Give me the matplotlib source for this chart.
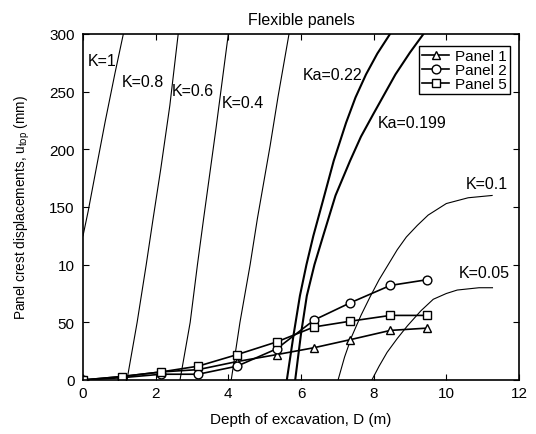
import matplotlib

matplotlib.use("Agg")
import matplotlib.pyplot as plt  # noqa: E402

# measured panel crest displacements
depth = [0, 1.07, 2.15, 3.17, 4.24, 5.33, 6.36, 7.36, 8.46, 9.48]
panel1 = [0, 3, 7, 9, 16, 22, 28, 35, 43, 45]
panel2 = [0, 2, 5, 5, 12, 27, 52, 67, 82, 87]
panel5 = [0, 3, 7, 12, 22, 33, 46, 51, 56, 56]

# limit-state curves
k1_x = [0, 0.14, 0.38, 0.61, 0.88, 1.11]
k1_y = [125, 146, 186, 224, 266, 300]
k08_x = [1.21, 1.49, 1.74, 1.93, 2.14, 2.39, 2.62]
k08_y = [0, 50, 100, 140, 183, 238, 300]
k06_x = [2.67, 2.95, 3.15, 3.32, 3.66, 4.0]
k06_y = [0, 50, 100, 140, 218, 300]
k04_x = [4.08, 4.32, 4.6, 4.8, 5.15, 5.37, 5.67]
k04_y = [0, 50, 100, 140, 203, 246, 300]
ka022_x = [5.61, 5.8, 5.97, 6.15, 6.34, 6.6, 6.9, 7.24, 7.5, 7.79, 8.1, 8.45]
ka022_y = [0, 40, 73, 100, 125, 155, 190, 223, 245, 265, 283, 300]
ka0199_x = [5.84, 6.0, 6.16, 6.37, 6.61, 6.95, 7.35, 7.65, 7.98, 8.6, 9.0, 9.37]
ka0199_y = [0, 40, 73, 100, 125, 160, 190, 211, 230, 265, 284, 300]
k01_x = [7.02, 7.2, 7.4, 7.65, 7.9, 8.15, 8.4, 8.65, 8.9, 9.2, 9.5, 10.0, 10.6, 11.26]
k01_y = [0, 20, 38, 56, 72, 87, 100, 113, 124, 134, 143, 153, 158, 160]
k005_x = [7.95, 8.15, 8.37, 8.65, 8.93, 9.3, 9.64, 10.0, 10.3, 10.9, 11.27]
k005_y = [0, 12, 24, 36, 47, 60, 70, 75, 78, 80, 80]

xticks = [0, 2, 4, 6, 8, 10, 12]
yticks = [0, 50, 100, 150, 200, 250, 300]
ytick_labels = ["0", "50", "10", "150", "200", "250", "300"]

plt.rcParams.update({"font.family": ["Liberation Sans", "DejaVu Sans"],
                     "mathtext.default": "regular"})

fig = plt.figure(figsize=(5.36, 4.35), dpi=100)
ax = fig.add_axes([83 / 536, 54 / 435, 436 / 536, 346 / 435])

for xs, ys in [(k1_x, k1_y), (k08_x, k08_y), (k06_x, k06_y), (k04_x, k04_y),
               (k01_x, k01_y), (k005_x, k005_y)]:
    ax.plot(xs, ys, color="black", lw=0.8)
for xs, ys in [(ka022_x, ka022_y), (ka0199_x, ka0199_y)]:
    ax.plot(xs, ys, color="black", lw=1.5)

mk = dict(color="black", lw=1.2, ms=6.3, mfc="white", mec="black", mew=1.0)
ax.plot(depth, panel1, marker="^", label="Panel 1", **mk)
ax.plot(depth, panel2, marker="o", label="Panel 2", **mk)
ax.plot(depth, panel5, marker="s", label="Panel 5", **{**mk, "ms": 5.6})

fs = 11.5
ax.text(0.14, 277, "K=1", fontsize=fs, va="center")
ax.text(1.07, 259, "K=0.8", fontsize=fs, va="center")
ax.text(2.45, 251, "K=0.6", fontsize=fs, va="center")
ax.text(3.83, 241, "K=0.4", fontsize=fs, va="center")
ax.text(6.06, 265, "Ka=0.22", fontsize=fs, va="center")
ax.text(8.12, 223, "Ka=0.199", fontsize=fs, va="center")
ax.text(10.54, 170, "K=0.1", fontsize=fs, va="center")
ax.text(10.35, 93, "K=0.05", fontsize=fs, va="center")

ax.set_xlim(0, 12)
ax.set_ylim(0, 300)
ax.set_xticks(xticks)
ax.set_yticks(yticks)
ax.set_yticklabels(ytick_labels)
ax.tick_params(direction="in", top=True, right=True, length=4, labelsize=11)
ax.tick_params(axis="y", pad=6)
ax.tick_params(axis="x", pad=4)
for s in ax.spines.values():
    s.set_linewidth(1.2)

ax.set_xlabel("Depth of excavation, D (m)", fontsize=11, labelpad=9)
ax.set_ylabel("Panel crest displacements, u$_{top}$ (mm)", fontsize=9.8, labelpad=12)
ax.set_title("Flexible panels", fontsize=11.5, pad=7)

leg = ax.legend(loc="upper right", bbox_to_anchor=(0.98, 0.965), fontsize=11,
                frameon=True, fancybox=False, edgecolor="black", framealpha=1,
                handlelength=1.8, handletextpad=0.4, labelspacing=0.0,
                borderpad=0.2, borderaxespad=0)
leg.get_frame().set_linewidth(1.0)

fig.savefig("out.png", dpi=100, facecolor="white")
